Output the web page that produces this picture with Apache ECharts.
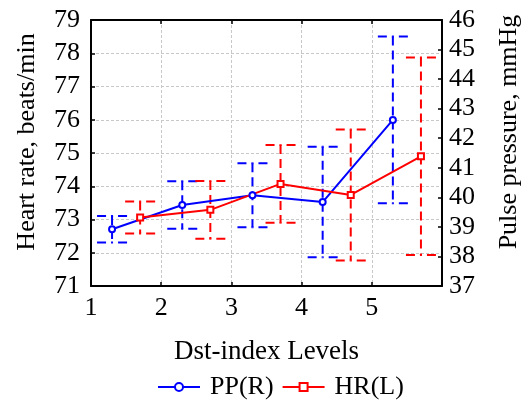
<!DOCTYPE html>
<html>
<head>
<meta charset="utf-8">
<script src="https://cdn.jsdelivr.net/npm/echarts@6/dist/echarts.min.js"></script>
<style>html,body{margin:0;padding:0;background:#fff;}#c{width:530px;height:405px;}</style>
</head>
<body>
<div id="c"></div>
<script>
var xTicks = [1, 2, 3, 4, 5];
var ppX = [1.3, 2.3, 3.3, 4.3, 5.3];
var ppVal = [38.92, 39.74, 40.07, 39.84, 42.62];
var ppErr = [0.45, 0.80, 1.08, 1.87, 2.82];
var hrX = [1.7, 2.7, 3.7, 4.7, 5.7];
var hrVal = [73.06, 73.29, 74.07, 73.74, 74.90];
var hrErr = [0.48, 0.87, 1.17, 1.97, 2.97];

var FONT = 'Liberation Serif';
var chart = echarts.init(document.getElementById('c'), null, {renderer: 'canvas'});

function pairs(xs, ys) { return xs.map(function (x, i) { return [x, ys[i]]; }); }
function errData(xs, ys, es) { return xs.map(function (x, i) { return [x, ys[i] - es[i], ys[i] + es[i]]; }); }

function errRender(color) {
  return function (params, api) {
    var x = api.value(0);
    var lo = api.coord([x, api.value(1)]);
    var hi = api.coord([x, api.value(2)]);
    var hw = 15;
    var st = {stroke: color, lineWidth: 2, lineDash: [9, 5]};
    var mk = function (x1, y1, x2, y2) {
      return {type: 'line', shape: {x1: x1, y1: y1, x2: x2, y2: y2}, style: st, silent: true};
    };
    return {type: 'group', children: [
      mk(hi[0], hi[1], lo[0], lo[1]),
      mk(hi[0] - hw, hi[1], hi[0], hi[1]),
      mk(hi[0] + hw, hi[1], hi[0], hi[1]),
      mk(lo[0] - hw, lo[1], lo[0], lo[1]),
      mk(lo[0] + hw, lo[1], lo[0], lo[1])
    ]};
  };
}

var axisLineStyle = {show: true, lineStyle: {color: '#000', width: 2}};
var tickIn = {show: true, inside: true, length: 4, lineStyle: {color: '#000', width: 1.5}};
var labelStyle = {color: '#000', fontFamily: FONT, fontSize: 26};
var gridLine = {show: true, lineStyle: {color: '#c8c8c8', type: [3, 2], width: 1}};

chart.setOption({
  animation: false,
  backgroundColor: '#fff',
  grid: {left: 91, right: 85, top: 20, bottom: 119},
  legend: {
    bottom: 0, left: 152,
    data: ['PP(R)', 'HR(L)'],
    itemWidth: 42, itemHeight: 10, itemGap: 8,
    textStyle: {color: '#000', fontFamily: FONT, fontSize: 26, padding: [0, 0, 0, 5]}
  },
  xAxis: [{
    type: 'value', min: 1, max: 6, interval: 1,
    name: 'Dst-index Levels', nameLocation: 'middle', nameGap: 52,
    nameTextStyle: {color: '#000', fontFamily: FONT, fontSize: 27},
    axisLine: axisLineStyle, axisTick: tickIn,
    axisLabel: Object.assign({margin: 9, formatter: function (v) { return xTicks.indexOf(v) >= 0 ? String(v) : ''; }}, labelStyle),
    splitLine: gridLine
  }, {
    type: 'value', min: 1, max: 6, interval: 1, position: 'top',
    axisLine: axisLineStyle, axisTick: tickIn, axisLabel: {show: false}, splitLine: {show: false}
  }],
  yAxis: [{
    type: 'value', min: 71, max: 79, interval: 1, position: 'left',
    name: 'Heart rate, beats/min', nameLocation: 'middle', nameGap: 51, nameRotate: 90,
    nameTextStyle: {color: '#000', fontFamily: FONT, fontSize: 26, padding: [0, 0, 0, 22]},
    axisLine: axisLineStyle, axisTick: tickIn,
    axisLabel: Object.assign({margin: 11}, labelStyle),
    splitLine: gridLine
  }, {
    type: 'value', min: 37, max: 46, interval: 1, position: 'right',
    name: 'Pulse pressure, mmHg', nameLocation: 'middle', nameGap: 54, nameRotate: 90,
    nameTextStyle: {color: '#000', fontFamily: FONT, fontSize: 26, padding: [0, 0, 0, 42]},
    axisLine: axisLineStyle, axisTick: tickIn,
    axisLabel: Object.assign({margin: 7}, labelStyle),
    splitLine: {show: false}
  }],
  series: [{
    name: 'PPerr', type: 'custom', xAxisIndex: 0, yAxisIndex: 1,
    data: errData(ppX, ppVal, ppErr), renderItem: errRender('#0000ff'), z: 2
  }, {
    name: 'HRerr', type: 'custom', xAxisIndex: 0, yAxisIndex: 0,
    data: errData(hrX, hrVal, hrErr), renderItem: errRender('#ff0000'), z: 2
  }, {
    name: 'PP(R)', type: 'line', xAxisIndex: 0, yAxisIndex: 1,
    data: pairs(ppX, ppVal), symbol: 'emptyCircle', symbolSize: 6,
    color: '#0000ff', lineStyle: {color: '#0000ff', width: 2},
    itemStyle: {color: '#0000ff', borderWidth: 2}, z: 5
  }, {
    name: 'HR(L)', type: 'line', xAxisIndex: 0, yAxisIndex: 0,
    data: pairs(hrX, hrVal), symbol: 'emptyRect', symbolSize: 6,
    color: '#ff0000', lineStyle: {color: '#ff0000', width: 2},
    itemStyle: {color: '#ff0000', borderWidth: 2}, z: 5
  }]
});
</script>
</body>
</html>
